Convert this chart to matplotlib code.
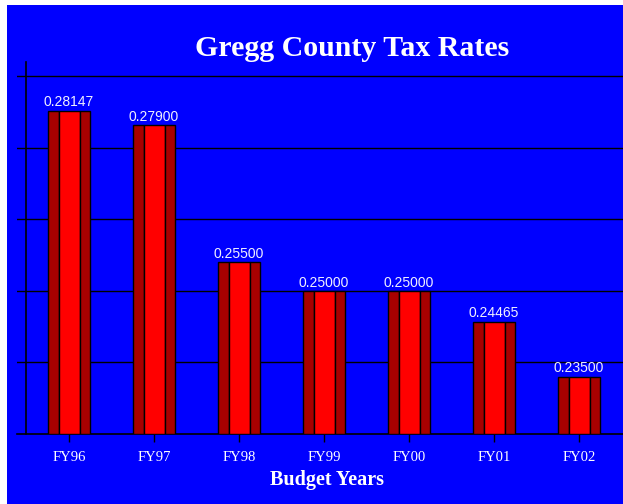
import matplotlib
matplotlib.use("Agg")
import matplotlib.pyplot as plt
from matplotlib.patches import Rectangle

years = ["FY96", "FY97", "FY98", "FY99", "FY00", "FY01", "FY02"]
rates = [0.28147, 0.27900, 0.25500, 0.25000, 0.25000, 0.24465, 0.23500]
rate_labels = ["0.28147", "0.27900", "0.25500", "0.25000", "0.25000", "0.24465", "0.23500"]
grid_values = [0.2375, 0.25, 0.2625, 0.275, 0.2875]

W, H = 623, 504
fig = plt.figure(figsize=(W / 100, H / 100), dpi=100, facecolor="white")
fig.patches.append(Rectangle((7 / W, 0), 1 - 7 / W, 1 - 5 / H, transform=fig.transFigure,
                             facecolor="#0000FF", edgecolor="none", zorder=-10))

left_px, right_px, top_px, bottom_px = 17, 623, 62, 434
ax = fig.add_axes([left_px / W, (H - bottom_px) / H, (right_px - left_px) / W,
                   (bottom_px - top_px) / H])
ax.set_facecolor("none")
ax.set_zorder(1)

base = 0.225
ax.set_ylim(base, 0.29)
sp = 85.0
ax.set_xlim(-(69 - left_px) / sp, (right_px - 69) / sp)

x = list(range(len(years)))
heights = [r - base for r in rates]
dark = "#A80000"
bright = "#FF0000"
ax.bar([i - 0.251 for i in x], heights, width=0.13, bottom=base, align="edge",
       color=dark, edgecolor="black", linewidth=1, zorder=3)
ax.bar([i - 0.121 for i in x], heights, width=0.247, bottom=base, align="edge",
       color=bright, edgecolor="black", linewidth=1, zorder=3)
ax.bar([i + 0.126 for i in x], heights, width=0.125, bottom=base, align="edge",
       color=dark, edgecolor="black", linewidth=1, zorder=3)

for i, (r, lab) in enumerate(zip(rates, rate_labels)):
    ax.annotate(lab, (i, r), xytext=(0, 1), textcoords="offset points",
                ha="center", va="bottom", color="#F0F0FF", fontsize=10,
                family="Liberation Sans", zorder=4)

for g in grid_values:
    ax.axhline(g, color="black", linewidth=1, zorder=1)

for s in ["top", "right", "left"]:
    ax.spines[s].set_visible(False)
ax.spines["bottom"].set_linewidth(1.2)
ax.spines["bottom"].set_color("black")
fy = (26 - left_px) / (right_px - left_px)
ax.plot([fy, fy], [0, 1], transform=ax.transAxes, color="black", linewidth=1.2,
        clip_on=False, zorder=2)

ax.set_yticks([])
ax.set_xticks(x)
ax.set_xticklabels(years, family="Liberation Serif", fontsize=10.5, color="white")
ax.tick_params(axis="x", length=6, width=1, color="black", pad=6)

fig.text(352 / W, 1 - 48 / H, "Gregg County Tax Rates", ha="center", va="center",
         family="Liberation Serif", fontweight="bold", fontsize=21.5, color="white")
fig.text(327 / W, 1 - 480 / H, "Budget Years", ha="center", va="center",
         family="Liberation Serif", fontweight="bold", fontsize=14.5, color="white")

fig.savefig("out.png", dpi=100, facecolor="white")
